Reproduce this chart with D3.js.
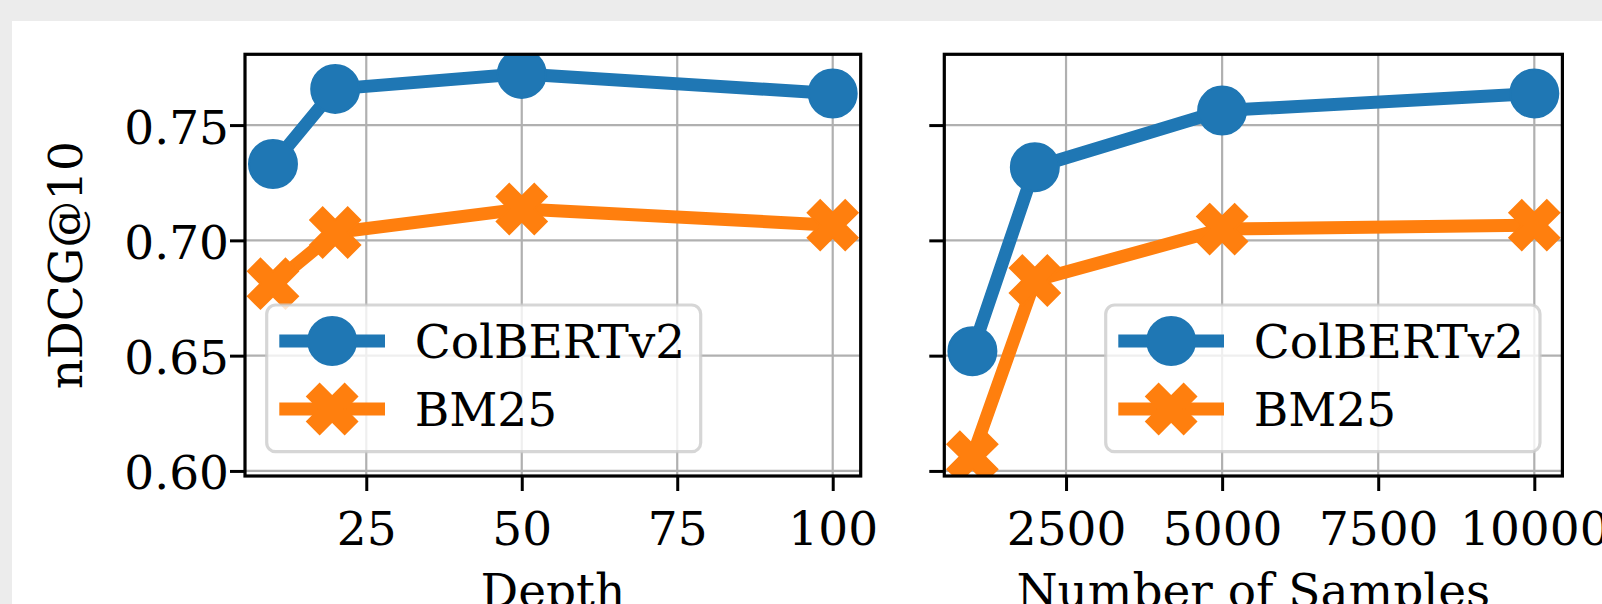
<!DOCTYPE html>
<html>
<head>
<meta charset="utf-8">
<script src="https://cdn.jsdelivr.net/npm/d3@7/dist/d3.min.js"></script>
<style>
  html, body { margin: 0; padding: 0; background: #ececec; }
  svg { display: block; }
  text { font-family: "DejaVu Serif", serif; }
</style>
</head>
<body>
<svg id="chart" width="1602" height="604"></svg>
<script>
// ---- data ----
const depth = [10, 20, 50, 100];
const colbertDepth = [0.7331, 0.7657, 0.7722, 0.7637];
const bm25Depth = [0.6812, 0.7034, 0.7136, 0.7066];

const samples = [1000, 2000, 5000, 10000];
const colbertSamples = [0.6519, 0.7317, 0.7563, 0.7637];
const bm25Samples = [0.6062, 0.6826, 0.7049, 0.7066];

const seriesNames = ["ColBERTv2", "BM25"];
const depthTicks = [25, 50, 75, 100];
const sampleTicks = [2500, 5000, 7500, 10000];
const yTicks = [0.60, 0.65, 0.70, 0.75];
const yLabel = "nDCG@10";
const xLabels = ["Depth", "Number of Samples"];

// ---- layout ----
const W = 1602, H = 604;
const FONT = 47;
const blue = "#1f77b4", orange = "#ff7f0e";
const svg = d3.select("#chart");

svg.append("rect").attr("x", 0).attr("y", 0).attr("width", W).attr("height", H).attr("fill", "#ececec");
svg.append("rect").attr("x", 12).attr("y", 21).attr("width", W - 12).attr("height", H - 21).attr("fill", "#ffffff");

const axTop = 54.3, axBottom = 476;
const y = d3.scaleLinear().domain([0.5978, 0.7807]).range([axBottom, axTop]);

const panels = [
  { left: 245, right: 860.7, domain: [5.5, 104.5], xs: depth, ys: [colbertDepth, bm25Depth], ticks: depthTicks,
    label: xLabels[0], yLabels: true, legend: { x0: 266.7, x1: 700.7, y0: 305, y1: 451.7 } },
  { left: 944.3, right: 1562.4, domain: [550, 10450], xs: samples, ys: [colbertSamples, bm25Samples], ticks: sampleTicks,
    label: xLabels[1], yLabels: false, legend: { x0: 1105.7, x1: 1540, y0: 305, y1: 451.7 } }
];

function xMarkerPath(u) {
  const pts = [[-1,-2],[0,-1],[1,-2],[2,-1],[1,0],[2,1],[1,2],[0,1],[-1,2],[-2,1],[-1,0],[-2,-1]];
  return "M" + pts.map(p => (p[0]*u) + "," + (p[1]*u)).join("L") + "Z";
}

const colors = [blue, orange];

panels.forEach((p, pi) => {
  const x = d3.scaleLinear().domain(p.domain).range([p.left, p.right]);
  const g = svg.append("g");
  const clipId = "clip" + pi;
  svg.append("clipPath").attr("id", clipId).append("rect")
    .attr("x", p.left).attr("y", axTop).attr("width", p.right - p.left).attr("height", axBottom - axTop);

  // grid
  const grid = g.append("g").attr("clip-path", `url(#${clipId})`);
  grid.selectAll("line.gx").data(p.ticks).join("line").attr("class", "gx")
    .attr("x1", d => x(d)).attr("x2", d => x(d)).attr("y1", axTop).attr("y2", axBottom)
    .attr("stroke", "#b0b0b0").attr("stroke-width", 2.2);
  grid.selectAll("line.gy").data(yTicks).join("line").attr("class", "gy")
    .attr("x1", p.left).attr("x2", p.right).attr("y1", d => y(d)).attr("y2", d => y(d))
    .attr("stroke", "#b0b0b0").attr("stroke-width", 2.2);

  // series
  const plot = g.append("g").attr("clip-path", `url(#${clipId})`);
  const line = d3.line().x(d => x(d[0])).y(d => y(d[1]));
  p.ys.forEach((vals, si) => {
    const pts = p.xs.map((xv, i) => [xv, vals[i]]);
    const sg = plot.append("g");
    sg.append("path").datum(pts).attr("d", line)
      .attr("fill", "none").attr("stroke", colors[si]).attr("stroke-width", 13)
      .attr("stroke-linejoin", "round").attr("stroke-linecap", "butt");
    if (si === 0) {
      sg.selectAll("circle").data(pts).join("circle")
        .attr("cx", d => x(d[0])).attr("cy", d => y(d[1])).attr("r", 24)
        .attr("fill", colors[si]).attr("stroke", colors[si]).attr("stroke-width", 2);
    } else {
      sg.selectAll("path.mk").data(pts).join("path").attr("class", "mk")
        .attr("d", xMarkerPath(12.5))
        .attr("transform", d => `translate(${x(d[0])},${y(d[1])})`)
        .attr("fill", colors[si]).attr("stroke", colors[si]).attr("stroke-width", 2);
    }
  });

  // axes
  const xAxis = d3.axisBottom(x).tickValues(p.ticks).tickSizeInner(15).tickSizeOuter(0).tickPadding(16)
    .tickFormat(d3.format("d"));
  const gx = g.append("g").attr("transform", `translate(0,${axBottom})`).call(xAxis);
  const yAxis = d3.axisLeft(y).tickValues(yTicks).tickSizeInner(15).tickSizeOuter(0).tickPadding(16)
    .tickFormat(p.yLabels ? d3.format(".2f") : () => "");
  const gy = g.append("g").attr("transform", `translate(${p.left},0)`).call(yAxis);
  [gx, gy].forEach(a => {
    a.attr("font-family", null).attr("font-size", null);
    a.select(".domain").remove();
    a.selectAll(".tick line").attr("stroke", "#000").attr("stroke-width", 3);
    a.selectAll(".tick text").attr("font-size", FONT).attr("fill", "#000")
      .attr("font-family", "DejaVu Serif, serif");
  });
  gx.selectAll(".tick text").attr("dy", null).attr("y", 69);
  gy.selectAll(".tick text").attr("dy", null).attr("x", -16).attr("y", 18);

  // spines
  g.append("rect").attr("x", p.left).attr("y", axTop).attr("width", p.right - p.left).attr("height", axBottom - axTop)
    .attr("fill", "none").attr("stroke", "#000").attr("stroke-width", 3.2);

  // x label
  g.append("text").attr("x", (p.left + p.right) / 2).attr("y", 607)
    .attr("text-anchor", "middle").attr("font-size", FONT).text(p.label);

  // legend
  const L = p.legend;
  const lg = g.append("g");
  lg.append("rect").attr("x", L.x0).attr("y", L.y0).attr("width", L.x1 - L.x0).attr("height", L.y1 - L.y0)
    .attr("rx", 9).attr("ry", 9)
    .attr("fill", "#fff").attr("fill-opacity", 0.8)
    .attr("stroke", "#cccccc").attr("stroke-opacity", 0.8).attr("stroke-width", 3.2);
  const rowY = [341, 409];
  seriesNames.forEach((name, si) => {
    const lx0 = L.x0 + 12.6, lx1 = L.x0 + 118.3, mx = (lx0 + lx1) / 2;
    lg.append("line").attr("x1", lx0).attr("x2", lx1).attr("y1", rowY[si]).attr("y2", rowY[si])
      .attr("stroke", colors[si]).attr("stroke-width", 13);
    if (si === 0) {
      lg.append("circle").attr("cx", mx).attr("cy", rowY[si]).attr("r", 24)
        .attr("fill", colors[si]).attr("stroke", colors[si]).attr("stroke-width", 2);
    } else {
      lg.append("path").attr("d", xMarkerPath(12.5)).attr("transform", `translate(${mx},${rowY[si]})`)
        .attr("fill", colors[si]).attr("stroke", colors[si]).attr("stroke-width", 2);
    }
    lg.append("text").attr("x", L.x0 + 148).attr("y", rowY[si] + 17).attr("font-size", FONT).text(name);
  });
});

// y label
svg.append("text")
  .attr("transform", `translate(82,${(axTop + axBottom) / 2}) rotate(-90)`)
  .attr("text-anchor", "middle").attr("font-size", FONT).text(yLabel);
</script>
</body>
</html>
